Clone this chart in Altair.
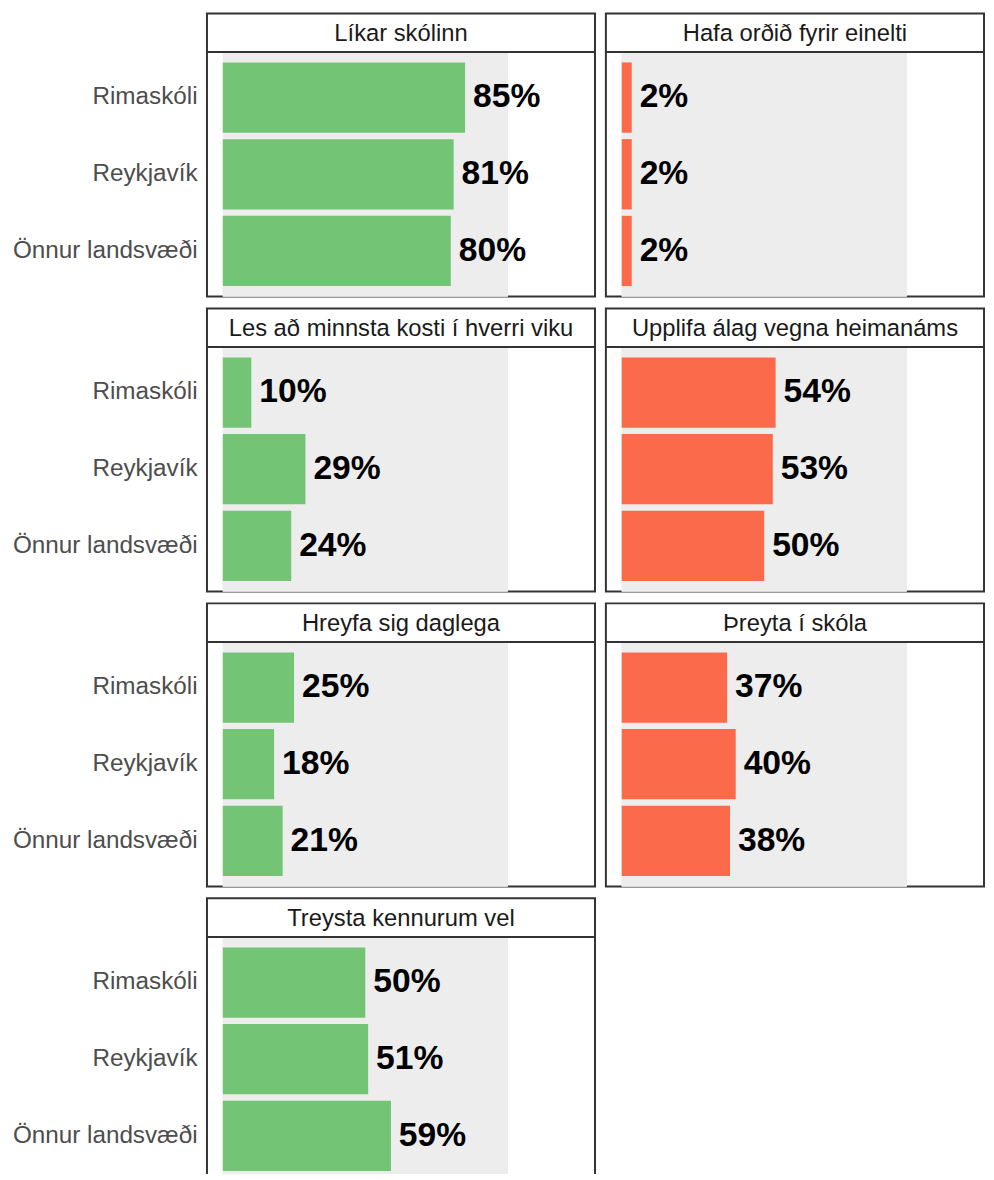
import altair as alt
import pandas as pd

groups = ["Rimaskóli", "Reykjavík", "Önnur landsvæði"]

panels = [
    "Líkar skólinn",
    "Hafa orðið fyrir einelti",
    "Les að minnsta kosti í hverri viku",
    "Upplifa álag vegna heimanáms",
    "Hreyfa sig daglega",
    "Þreyta í skóla",
    "Treysta kennurum vel",
]
kinds = ["good", "bad", "good", "bad", "good", "bad", "good"]

# bar lengths (percent)
values = [
    [85, 81, 80],
    [3.5, 3.5, 3.5],
    [10, 29, 24],
    [54, 53, 50],
    [25, 18, 21],
    [37, 40, 38],
    [50, 51, 59],
]
# printed labels
labels = [
    ["85%", "81%", "80%"],
    ["2%", "2%", "2%"],
    ["10%", "29%", "24%"],
    ["54%", "53%", "50%"],
    ["25%", "18%", "21%"],
    ["37%", "40%", "38%"],
    ["50%", "51%", "59%"],
]

colors = {"good": "#74C476", "bad": "#FB6A4A"}

rows = []
for p, k, vs, ls in zip(panels, kinds, values, labels):
    for g, v, l in zip(groups, vs, ls):
        rows.append({"panel": p, "kind": k, "group": g, "value": v, "label": l})
df = pd.DataFrame(rows)

FONT = "Liberation Sans"
S = 39      # strip height
H = 286     # strip + panel height
PX_PER = 2.879
XMIN = -5.56


def panel_chart(title, kind, left, width):
    d = df[df["panel"] == title]
    base = alt.Chart(d)
    xmax = XMIN + width / PX_PER
    xscale = alt.Scale(domain=[XMIN, xmax], nice=False)
    yscale = alt.Scale(range=[S, H], paddingInner=0.084, paddingOuter=0.136)
    if left:
        yaxis = alt.Axis(title=None, ticks=False, domain=False, grid=False,
                         labelFontSize=24.5, labelColor="#4D4D4D", labelFont=FONT,
                         labelPadding=10, labelLimit=400)
    else:
        yaxis = None
    y = alt.Y("group:N", sort=groups, scale=yscale, axis=yaxis)

    bg = base.mark_rect(color="#EDEDED").encode(
        x=alt.datum(0, scale=xscale, axis=None),
        x2=alt.datum(100),
        y=alt.value(S),
        y2=alt.value(H),
    )
    bars = base.mark_bar(color=colors[kind]).encode(
        x=alt.X("value:Q", scale=xscale, axis=None),
        y=y,
    )
    text = base.mark_text(align="left", baseline="middle", dx=8, fontSize=34,
                          fontWeight="bold", color="black", font=FONT).encode(
        x=alt.X("value:Q", scale=xscale, axis=None),
        y=y,
        text="label:N",
    )
    tdf = pd.DataFrame({"t": [title]})
    strip_rule = alt.Chart(tdf).mark_rule(color="#333333", strokeWidth=2).encode(
        y=alt.value(S), x=alt.value(0), x2=alt.value(width)
    )
    strip_text = alt.Chart(tdf).mark_text(fontSize=24, color="#1A1A1A", font=FONT,
                                          baseline="middle", align="center").encode(
        text="t:N", x=alt.value(width / 2), y=alt.value(S / 2 + 1)
    )
    return alt.layer(bg, bars, text, strip_rule, strip_text).properties(
        width=width, height=H
    )


LW = 392
RW = 382

charts = []
for i, (p, k) in enumerate(zip(panels, kinds)):
    left = (i % 2 == 0)
    charts.append(panel_chart(p, k, left, LW if left else RW))

row_charts = []
for r in range(0, len(charts), 2):
    pair = charts[r:r + 2]
    row = alt.hconcat(*pair, spacing=7).resolve_scale(x="independent", y="independent")
    row_charts.append(row)

chart = alt.vconcat(*row_charts, spacing=10).resolve_scale(
    x="independent", y="independent"
).properties(
    padding={"left": 3, "top": -1.5, "right": 0, "bottom": -15},
    background="white",
).configure_view(
    stroke="#333333", strokeWidth=2
)

chart.save("out.html", embed_options={"renderer": "svg", "actions": False})
